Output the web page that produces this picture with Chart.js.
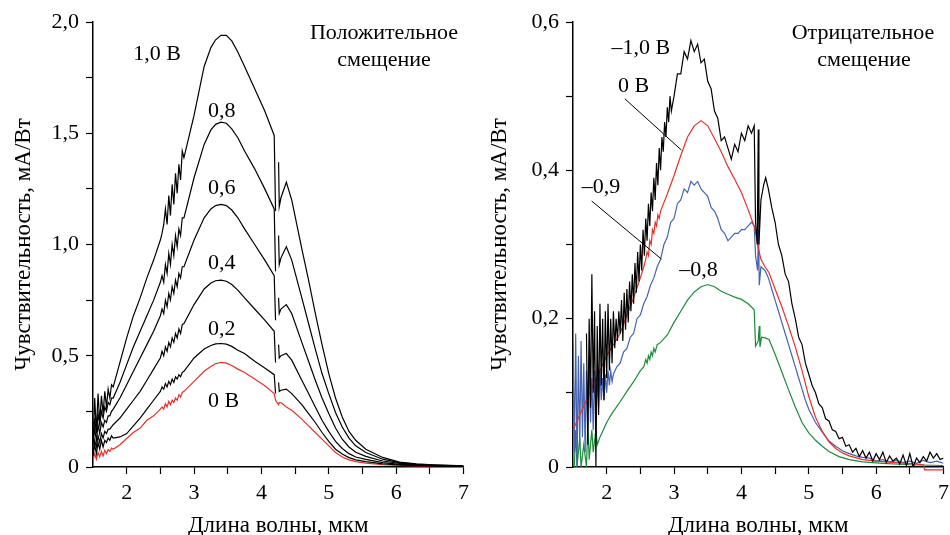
<!DOCTYPE html>
<html>
<head>
<meta charset="utf-8">
<script src="https://cdn.jsdelivr.net/npm/chart.js@4.4.1/dist/chart.umd.min.js"></script>
<style>
  body { margin: 0; background: #fff; width: 950px; height: 535px; overflow: hidden; position: relative; }
  #wl { position: absolute; left: 0; top: 0; }
  #wr { position: absolute; left: 475px; top: 0; }
</style>
</head>
<body>
<div id="wl"><canvas id="left" width="475" height="535"></canvas></div>
<div id="wr"><canvas id="right" width="480" height="535"></canvas></div>
<script>
/* Левый график: положительное смещение */
const wlL = [1.5, 1.525, 1.55, 1.575, 1.6, 1.625, 1.65, 1.675, 1.7, 1.725, 1.75, 1.775, 1.8,
  1.9, 2.0, 2.1, 2.2, 2.3, 2.4, 2.5,
  2.525, 2.55, 2.575, 2.6, 2.625, 2.65, 2.675, 2.7, 2.725, 2.75, 2.775, 2.8, 2.825, 2.85,
  3.0, 3.15, 3.25, 3.32, 3.4, 3.48, 3.56, 3.65, 3.75, 3.9, 4.05, 4.19,
  4.21, 4.23, 4.255, 4.265, 4.29, 4.37, 4.45,
  4.6, 4.7, 4.8, 4.9, 5.0, 5.1, 5.2, 5.3, 5.4, 5.55, 5.8, 6.05, 6.3, 6.55, 6.8, 7.0];

const pos10 = [0.10, 0.31, 0.16, 0.33, 0.20, 0.32, 0.24, 0.34, 0.27, 0.35, 0.31, 0.37, 0.36,
  0.47, 0.58, 0.68, 0.76, 0.85, 0.93, 1.02,
  1.05, 1.09, 1.16, 1.09, 1.22, 1.13, 1.27, 1.18, 1.32, 1.23, 1.36, 1.29, 1.42, 1.39,
  1.58, 1.80, 1.885, 1.92, 1.94, 1.94, 1.915, 1.865, 1.80, 1.70, 1.60, 1.49,
  1.15, null, 1.37, 1.17, 1.21, 1.28, 1.20,
  0.98, 0.84, 0.69, 0.55, 0.42, 0.31, 0.225, 0.16, 0.12, 0.08, 0.043, 0.022, 0.014, 0.01, 0.007, 0.005];
const pos08 = [0.12, 0.22, 0.15, 0.24, 0.19, 0.25, 0.22, 0.27, 0.25, 0.29, 0.28, 0.31, 0.31,
  0.38, 0.46, 0.54, 0.61, 0.68, 0.75, 0.83,
  0.86, 0.83, 0.91, 0.87, 0.96, 0.91, 1.00, 0.95, 1.04, 0.99, 1.07, 1.04, 1.12, 1.12,
  1.30, 1.45, 1.515, 1.54, 1.55, 1.545, 1.52, 1.48, 1.42, 1.34, 1.25, 1.16,
  0.88, null, 1.04, 0.91, 0.94, 0.99, 0.93,
  0.76, 0.645, 0.53, 0.42, 0.33, 0.245, 0.18, 0.13, 0.095, 0.065, 0.035, 0.02, 0.012, 0.008, 0.006, 0.004];
const pos06 = [0.10, 0.17, 0.12, 0.19, 0.15, 0.20, 0.18, 0.21, 0.20, 0.23, 0.23, 0.25, 0.26,
  0.31, 0.37, 0.43, 0.49, 0.55, 0.61, 0.68,
  0.71, 0.69, 0.75, 0.72, 0.78, 0.75, 0.81, 0.78, 0.84, 0.81, 0.87, 0.85, 0.90, 0.90,
  1.02, 1.12, 1.16, 1.175, 1.18, 1.175, 1.155, 1.12, 1.07, 1.00, 0.93, 0.86,
  0.66, null, 0.76, 0.69, 0.71, 0.73, 0.69,
  0.56, 0.475, 0.39, 0.31, 0.24, 0.175, 0.125, 0.09, 0.066, 0.048, 0.027, 0.016, 0.01, 0.007, 0.005, 0.004];
const pos04 = [0.06, 0.12, 0.09, 0.14, 0.11, 0.15, 0.13, 0.16, 0.15, 0.17, 0.17, 0.18, 0.19,
  0.22, 0.26, 0.30, 0.34, 0.39, 0.44, 0.49,
  0.52, 0.50, 0.54, 0.52, 0.56, 0.54, 0.58, 0.56, 0.60, 0.58, 0.62, 0.60, 0.64, 0.645,
  0.73, 0.80, 0.827, 0.837, 0.84, 0.835, 0.82, 0.795, 0.76, 0.71, 0.66, 0.61,
  0.47, null, 0.55, 0.49, 0.50, 0.51, 0.48,
  0.39, 0.33, 0.27, 0.21, 0.16, 0.115, 0.083, 0.06, 0.045, 0.034, 0.02, 0.012, 0.008, 0.006, 0.004, 0.003];
const pos02 = [0.05, 0.10, 0.06, 0.11, 0.08, 0.12, 0.09, 0.12, 0.11, 0.13, 0.12, 0.14, 0.13,
  0.135, 0.15, 0.185, 0.22, 0.26, 0.30, 0.34,
  0.36, 0.35, 0.375, 0.36, 0.385, 0.37, 0.395, 0.38, 0.405, 0.395, 0.415, 0.405, 0.425, 0.43,
  0.49, 0.53, 0.546, 0.553, 0.555, 0.552, 0.542, 0.525, 0.51, 0.475, 0.445, 0.415,
  0.33, null, 0.38, 0.34, 0.345, 0.35, 0.33,
  0.28, 0.24, 0.20, 0.155, 0.115, 0.08, 0.058, 0.042, 0.032, 0.024, 0.014, 0.009, 0.006, 0.004, 0.003, 0.002];
const pos00 = [0.03, 0.06, 0.035, 0.065, 0.045, 0.07, 0.05, 0.075, 0.06, 0.078, 0.07, 0.085, 0.08,
  0.10, 0.128, 0.155, 0.175, 0.21, 0.23, 0.26,
  0.27, 0.26, 0.285, 0.27, 0.295, 0.28, 0.30, 0.29, 0.31, 0.30, 0.325, 0.315, 0.335, 0.34,
  0.385, 0.43, 0.452, 0.464, 0.47, 0.467, 0.456, 0.44, 0.425, 0.395, 0.365, 0.33,
  0.30, 0.29, 0.28, 0.29, 0.29, 0.27, 0.255,
  0.215, 0.185, 0.155, 0.125, 0.095, 0.065, 0.045, 0.032, 0.024, 0.017, 0.01, 0.007, 0.005, 0.004, 0.003, 0.003];

/* Правый график: отрицательное смещение */
const xNeg10 = [1.70, 1.72, 1.74, 1.76, 1.78, 1.80, 1.82, 1.84, 1.86, 1.88, 1.90, 1.92, 1.94, 1.96, 1.98,
  2.00, 2.02, 2.04, 2.06, 2.08, 2.10, 2.12, 2.14, 2.16, 2.18, 2.20,
  2.22, 2.24, 2.26, 2.28, 2.30, 2.32, 2.34, 2.36, 2.38, 2.40, 2.42, 2.44, 2.46, 2.48, 2.50,
  2.52, 2.54, 2.56, 2.58, 2.60, 2.62, 2.64, 2.66, 2.68, 2.70, 2.72, 2.74, 2.76, 2.78, 2.80,
  2.82, 2.84, 2.86, 2.88, 2.90, 2.92, 2.94, 2.96,
  3.00, 3.05, 3.10, 3.15, 3.20, 3.25, 3.30, 3.35, 3.40, 3.45, 3.50, 3.55, 3.60, 3.65, 3.70,
  3.75, 3.80, 3.85, 3.90, 3.95, 4.00, 4.05, 4.10, 4.15,
  4.19, 4.21, 4.235, 4.25, 4.26, 4.29, 4.33, 4.36, 4.40,
  4.45, 4.50, 4.55, 4.60, 4.65, 4.70, 4.75, 4.80, 4.85, 4.90, 4.95, 5.00, 5.05, 5.10, 5.15,
  5.20, 5.25, 5.30, 5.35, 5.40, 5.45, 5.50, 5.55, 5.60, 5.65, 5.70, 5.75, 5.80, 5.85, 5.90,
  5.95, 6.00, 6.05, 6.10, 6.15, 6.20, 6.25, 6.30, 6.35, 6.40, 6.45, 6.50, 6.55, 6.60, 6.65,
  6.70, 6.75, 6.80, 6.85, 6.90, 6.95, 7.00];
const neg10 = [0.18, 0.03, 0.20, 0.08, 0.26, 0.10, 0.21, 0.00, 0.19, 0.07, 0.22, 0.11, 0.20, 0.09, 0.21,
  0.12, 0.22, 0.13, 0.20, 0.14, 0.21, 0.16, 0.20, 0.17, 0.21, 0.18,
  0.225, 0.17, 0.235, 0.185, 0.24, 0.195, 0.25, 0.21, 0.26, 0.22, 0.275, 0.235, 0.29, 0.25, 0.30,
  0.265, 0.32, 0.285, 0.335, 0.305, 0.355, 0.325, 0.37, 0.345, 0.39, 0.36, 0.41, 0.38, 0.43, 0.40,
  0.445, 0.425, 0.465, 0.445, 0.485, 0.465, 0.50, 0.48,
  0.50, 0.53, 0.53, 0.56, 0.55, 0.575, 0.56, 0.57, 0.545, 0.55, 0.52, 0.51, 0.48, 0.47, 0.44,
  0.445, 0.43, 0.415, 0.435, 0.425, 0.45, 0.44, 0.46, 0.45,
  0.46, 0.33, 0.30, 0.455, 0.30, 0.36, 0.38, 0.39, 0.375,
  0.35, 0.33, 0.30, 0.285, 0.26, 0.25, 0.22, 0.20, 0.175, 0.165, 0.14, 0.125, 0.11, 0.10, 0.085,
  0.08, 0.065, 0.062, 0.05, 0.048, 0.038, 0.04, 0.028, 0.03, 0.02, 0.025, 0.014, 0.022, 0.012, 0.02,
  0.008, 0.018, 0.01, 0.02, 0.006, 0.015, 0.008, 0.012, 0.004, 0.016, 0.002, 0.018, 0.0, 0.012, 0.006,
  0.014, 0.008, 0.02, 0.012, 0.018, 0.01, 0.012];

const xNeg09 = [1.50, 1.52, 1.54, 1.56, 1.58, 1.60, 1.62, 1.64, 1.66, 1.68, 1.70, 1.72, 1.74, 1.76, 1.78,
  1.80, 1.82, 1.84, 1.86, 1.88, 1.90, 1.92, 1.94, 1.96, 1.98, 2.00, 2.02, 2.04, 2.06, 2.08, 2.10,
  2.15, 2.20, 2.25, 2.30, 2.35, 2.40, 2.45, 2.50, 2.55, 2.60, 2.65, 2.70, 2.75, 2.80, 2.85,
  2.90, 2.95, 3.00, 3.05, 3.10, 3.15, 3.20, 3.25, 3.30, 3.35, 3.40, 3.45, 3.50, 3.55, 3.60,
  3.65, 3.70, 3.75, 3.80, 3.85, 3.90, 3.95, 4.00, 4.05, 4.10, 4.15,
  4.19, 4.21, 4.24, 4.255, 4.265, 4.29, 4.35, 4.40,
  4.45, 4.50, 4.55, 4.60, 4.65, 4.70, 4.75, 4.80, 4.85, 4.90, 4.95, 5.00,
  5.10, 5.20, 5.30, 5.40, 5.50, 5.60, 5.70, 5.80, 5.90, 6.00, 6.10, 6.20, 6.30, 6.40, 6.50,
  6.60, 6.70, 6.80, 6.90, 7.00];
const neg09 = [0.17, 0.02, 0.18, 0.00, 0.15, 0.03, 0.17, 0.04, 0.14, 0.02, 0.13, 0.05, 0.15, 0.06, 0.12,
  0.05, 0.13, 0.07, 0.12, 0.08, 0.13, 0.09, 0.12, 0.09, 0.125, 0.10, 0.13, 0.11, 0.13, 0.115, 0.125,
  0.135, 0.14, 0.155, 0.16, 0.175, 0.18, 0.20, 0.205, 0.22, 0.23, 0.245, 0.255, 0.27, 0.28, 0.30,
  0.31, 0.33, 0.335, 0.355, 0.36, 0.375, 0.37, 0.385, 0.38, 0.385, 0.375, 0.37, 0.365, 0.35, 0.345,
  0.335, 0.32, 0.315, 0.305, 0.31, 0.315, 0.315, 0.32, 0.32, 0.325, 0.33,
  0.325, 0.285, 0.265, 0.32, 0.245, 0.27, 0.265, 0.255,
  0.24, 0.225, 0.21, 0.195, 0.18, 0.165, 0.15, 0.135, 0.12, 0.105, 0.09, 0.078,
  0.06, 0.047, 0.035, 0.028, 0.022, 0.018, 0.015, 0.013, 0.012, 0.008, 0.01, 0.007, 0.009, 0.006, 0.008,
  0.005, 0.009, 0.006, 0.008, 0.005];

const xNeg00 = [1.5, 1.6, 1.7, 1.8, 1.9, 2.0, 2.1, 2.2, 2.3, 2.4, 2.5,
  2.55, 2.58, 2.6, 2.62, 2.64, 2.66, 2.68, 2.7, 2.72, 2.74, 2.76, 2.78, 2.8,
  2.9, 3.0, 3.1, 3.2, 3.3, 3.4, 3.5, 3.6, 3.7, 3.8, 3.9, 4.0, 4.1, 4.2,
  4.25, 4.29, 4.35, 4.41,
  4.5, 4.6, 4.7, 4.8, 4.9, 5.0, 5.1, 5.2, 5.3, 5.4, 5.5, 5.6,
  5.8, 6.0, 6.3, 6.6, 6.7, 6.72, 7.0];
const neg00 = [0.05, 0.07, 0.09, 0.11, 0.13, 0.15, 0.165, 0.18, 0.205, 0.228, 0.255,
  0.27, 0.28, 0.29, 0.285, 0.305, 0.30, 0.32, 0.315, 0.33, 0.325, 0.34, 0.335, 0.345,
  0.368, 0.393, 0.42, 0.445, 0.46, 0.467, 0.46, 0.443, 0.425, 0.405, 0.388, 0.37, 0.347, 0.322,
  0.295, 0.28, 0.27, 0.262,
  0.24, 0.216, 0.19, 0.162, 0.13, 0.095, 0.067, 0.048, 0.034, 0.025, 0.019, 0.015,
  0.01, 0.008, 0.006, 0.004, 0.003, -0.004, -0.004];

const xNeg08 = [1.52, 1.54, 1.56, 1.60, 1.62, 1.66, 1.70, 1.72, 1.74, 1.78, 1.80, 1.84, 1.86,
  1.90, 1.95, 2.0, 2.05, 2.1, 2.2, 2.3, 2.4, 2.5,
  2.55, 2.58, 2.6, 2.62, 2.64, 2.66, 2.68, 2.7, 2.72, 2.75, 2.8,
  2.9, 3.0, 3.1, 3.2, 3.3, 3.4, 3.5, 3.6, 3.7, 3.8, 3.9, 4.0, 4.1,
  4.19, 4.21, 4.25, 4.265, 4.275, 4.3, 4.35, 4.41,
  4.5, 4.6, 4.7, 4.8, 4.9, 5.0, 5.1, 5.2, 5.3,
  5.45, 5.6, 5.8, 6.1, 6.5, 7.0];
const neg08 = [0.00, 0.05, 0.00, 0.04, 0.00, 0.03, 0.00, 0.06, 0.01, 0.05, 0.02, 0.05, 0.03,
  0.04, 0.05, 0.06, 0.068, 0.075, 0.088, 0.102, 0.115, 0.13,
  0.135, 0.145, 0.14, 0.15, 0.145, 0.155, 0.15, 0.16, 0.155, 0.165, 0.168,
  0.178, 0.195, 0.21, 0.225, 0.236, 0.243, 0.246, 0.243, 0.237, 0.233, 0.229, 0.226, 0.22,
  0.212, 0.163, 0.17, 0.19, 0.162, 0.175, 0.174, 0.172,
  0.152, 0.128, 0.104, 0.081, 0.06, 0.046, 0.036, 0.028, 0.021,
  0.014, 0.01, 0.007, 0.005, 0.003, 0.002];

/* Подписи */
const notesPos = [
  { t: '1,0 В', x: 2.45, y: 1.856 },
  { t: '0,8', x: 3.41, y: 1.60 },
  { t: '0,6', x: 3.41, y: 1.254 },
  { t: '0,4', x: 3.41, y: 0.917 },
  { t: '0,2', x: 3.41, y: 0.62 },
  { t: '0 В', x: 3.44, y: 0.297 },
  { t: 'Положительное', x: 5.82, y: 1.95 },
  { t: 'смещение', x: 5.82, y: 1.83 }
];
const notesNeg = [
  { t: '–1,0 В', x: 2.506, y: 0.565 },
  { t: '0 В', x: 2.40, y: 0.514 },
  { t: '–0,9', x: 1.914, y: 0.3775 },
  { t: '–0,8', x: 3.364, y: 0.2656 },
  { t: 'Отрицательное', x: 5.805, y: 0.585 },
  { t: 'смещение', x: 5.82, y: 0.549 }
];
const leadersNeg = [
  [2.27, 0.4964, 3.108, 0.4274],
  [1.777, 0.3586, 2.812, 0.2804]
];

const FONT = '"Liberation Serif", "Times New Roman", Times, serif';
const RED = '#e4322b', BLUE = '#4463b0', GREEN = '#1c8b3c';

function pts(xs, ys) {
  return xs.map((x, i) => ({ x: x, y: ys[i] }));
}
function fmt(v) {
  return v === 0 ? '0' : v.toFixed(1).replace('.', ',');
}
function line(data, color, extra) {
  return Object.assign({ data: data, borderColor: color, borderWidth: 1.2, pointRadius: 0,
    tension: 0, spanGaps: false, fill: false }, extra || {});
}

const notesPlugin = {
  id: 'notes',
  afterDatasetsDraw(chart, args, opts) {
    const { ctx, scales: { x, y } } = chart;
    ctx.save();
    ctx.fillStyle = '#000';
    ctx.font = '22px ' + FONT;
    ctx.textAlign = 'center';
    ctx.textBaseline = 'middle';
    opts.labels.forEach(n => ctx.fillText(n.t, x.getPixelForValue(n.x), y.getPixelForValue(n.y)));
    ctx.strokeStyle = '#000';
    ctx.lineWidth = 1;
    (opts.leaders || []).forEach(l => {
      ctx.beginPath();
      ctx.moveTo(x.getPixelForValue(l[0]), y.getPixelForValue(l[1]));
      ctx.lineTo(x.getPixelForValue(l[2]), y.getPixelForValue(l[3]));
      ctx.stroke();
    });
    ctx.restore();
  }
};

function scales(yMax, yStep, yLabelStep, yWidth, yTitlePad) {
  return {
    x: {
      type: 'linear', min: 1.5, max: 7,
      border: { color: '#000', width: 1.5 },
      grid: { drawOnChartArea: false, tickLength: 7, tickWidth: 1.2,
        tickColor: c => (c.tick && Math.abs(c.tick.value - 1.5) < 1e-6) ? 'rgba(0,0,0,0)' : '#000' },
      ticks: { stepSize: 0.5, autoSkip: false, maxRotation: 0, color: '#000', padding: 6,
        font: { family: FONT, size: 22 },
        callback: v => Math.abs(v - Math.round(v)) < 1e-6 ? String(Math.round(v)) : '' },
      title: { display: true, text: 'Длина волны, мкм', color: '#000',
        font: { family: FONT, size: 23, lineHeight: 1 }, padding: { top: 0, bottom: -2 } },
      afterFit: s => { s.height = 68; }
    },
    y: {
      min: 0, max: yMax,
      border: { color: '#000', width: 1.5 },
      grid: { drawOnChartArea: false, tickLength: 7, tickWidth: 1.2, tickColor: '#000' },
      ticks: { stepSize: yStep, autoSkip: false, color: '#000', padding: 7,
        font: { family: FONT, size: 22 },
        callback: v => Math.abs(v / yLabelStep - Math.round(v / yLabelStep)) < 1e-6 ? fmt(v) : '' },
      title: { display: true, text: 'Чувствительность, мА/Вт', color: '#000',
        font: { family: FONT, size: 23, lineHeight: 1 }, padding: { top: yTitlePad, bottom: 0 } },
      afterFit: s => { s.width = yWidth; }
    }
  };
}

function common(notes, leaders, yMax, yStep, yLabelStep, yWidth, yTitlePad) {
  return {
    responsive: false,
    animation: false,
    layout: { padding: { top: 22, right: 10, left: 0, bottom: 0 } },
    plugins: { legend: { display: false }, tooltip: { enabled: false },
      notes: { labels: notes, leaders: leaders } },
    scales: scales(yMax, yStep, yLabelStep, yWidth, yTitlePad)
  };
}

Chart.defaults.font.family = FONT;

new Chart(document.getElementById('left'), {
  type: 'line',
  data: {
    datasets: [
      line(pts(wlL, pos10), '#000'),
      line(pts(wlL, pos08), '#000'),
      line(pts(wlL, pos06), '#000'),
      line(pts(wlL, pos04), '#000'),
      line(pts(wlL, pos02), '#000'),
      line(pts(wlL, pos00), RED)
    ]
  },
  options: common(notesPos, [], 2.0, 0.25, 0.5, 93, 12),
  plugins: [notesPlugin]
});

new Chart(document.getElementById('right'), {
  type: 'line',
  data: {
    datasets: [
      line(pts(xNeg10, neg10), '#000'),
      line(pts(xNeg00, neg00), RED, { clip: 4 }),
      line(pts(xNeg09, neg09), BLUE),
      line(pts(xNeg08, neg08), GREEN)
    ]
  },
  options: common(notesNeg, leadersNeg, 0.6, 0.1, 0.2, 98, 13),
  plugins: [notesPlugin]
});
</script>
</body>
</html>
